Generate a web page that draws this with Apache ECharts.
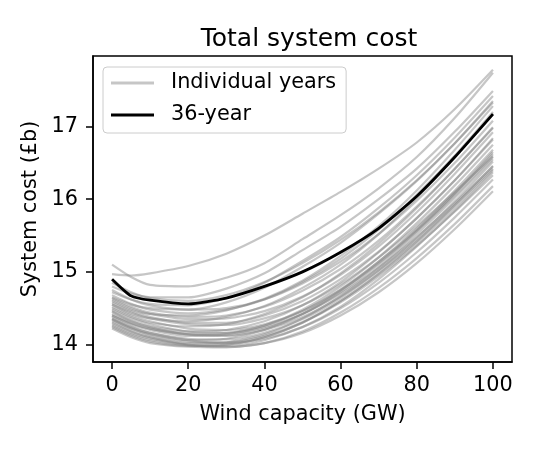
<!DOCTYPE html>
<html>
<head>
<meta charset="utf-8">
<script src="https://cdn.jsdelivr.net/npm/echarts@6/dist/echarts.min.js"></script>
<style>
  html, body { margin: 0; padding: 0; background: #fff; }
  #chart { width: 540px; height: 450px; }
</style>
</head>
<body>
<div id="chart"></div>
<script>
// wind capacity (GW) sample points
var wind = [0, 5, 10, 20, 30, 40, 50, 60, 70, 80, 90, 100];

// system cost (£b) for each individual weather year
var years = [
  [14.97, 14.95, 14.98, 15.08, 15.25, 15.50, 15.80, 16.10, 16.42, 16.78, 17.24, 17.78],
  [15.10, 14.93, 14.82, 14.80, 14.92, 15.12, 15.45, 15.78, 16.15, 16.58, 17.12, 17.74],
  [14.80, 14.70, 14.65, 14.65, 14.77, 14.98, 15.30, 15.62, 16.00, 16.42, 16.93, 17.49],
  [14.72, 14.62, 14.56, 14.54, 14.64, 14.85, 15.15, 15.48, 15.88, 16.33, 16.85, 17.42],
  [14.65, 14.55, 14.50, 14.48, 14.58, 14.78, 15.07, 15.40, 15.80, 16.25, 16.77, 17.33],
  [14.60, 14.48, 14.42, 14.40, 14.47, 14.63, 14.88, 15.22, 15.63, 16.12, 16.68, 17.28],
  [14.55, 14.42, 14.36, 14.32, 14.38, 14.53, 14.78, 15.10, 15.52, 16.02, 16.58, 17.18],
  [14.50, 14.38, 14.30, 14.25, 14.28, 14.42, 14.65, 14.98, 15.39, 15.88, 16.42, 16.99],
  [14.62, 14.50, 14.42, 14.35, 14.36, 14.46, 14.66, 14.96, 15.35, 15.82, 16.35, 16.92],
  [14.45, 14.32, 14.25, 14.18, 14.20, 14.32, 14.54, 14.86, 15.27, 15.74, 16.26, 16.82],
  [14.40, 14.28, 14.20, 14.12, 14.14, 14.26, 14.48, 14.80, 15.20, 15.67, 16.19, 16.75],
  [14.35, 14.22, 14.14, 14.06, 14.08, 14.20, 14.42, 14.74, 15.14, 15.60, 16.12, 16.68],
  [14.55, 14.44, 14.36, 14.28, 14.27, 14.36, 14.54, 14.83, 15.20, 15.63, 16.10, 16.59],
  [14.30, 14.18, 14.10, 14.02, 14.03, 14.14, 14.36, 14.67, 15.06, 15.52, 16.02, 16.55],
  [14.48, 14.36, 14.28, 14.18, 14.16, 14.24, 14.42, 14.70, 15.06, 15.48, 15.95, 16.45],
  [14.26, 14.14, 14.06, 13.99, 13.98, 14.06, 14.24, 14.52, 14.90, 15.35, 15.84, 16.37],
  [14.38, 14.25, 14.16, 14.06, 14.02, 14.08, 14.24, 14.50, 14.85, 15.27, 15.75, 16.27],
  [14.22, 14.10, 14.02, 13.97, 13.96, 14.02, 14.18, 14.44, 14.78, 15.19, 15.66, 16.18],
  [14.32, 14.19, 14.10, 14.00, 13.97, 14.02, 14.16, 14.40, 14.72, 15.12, 15.59, 16.11],
  [14.85, 14.72, 14.64, 14.60, 14.68, 14.86, 15.12, 15.44, 15.82, 16.26, 16.77, 17.35],
  [14.68, 14.56, 14.48, 14.43, 14.48, 14.62, 14.86, 15.18, 15.58, 16.06, 16.60, 17.20],
  [14.58, 14.46, 14.38, 14.30, 14.30, 14.40, 14.60, 14.90, 15.28, 15.74, 16.26, 16.84],
  [14.42, 14.30, 14.22, 14.14, 14.13, 14.22, 14.42, 14.72, 15.10, 15.56, 16.08, 16.65],
  [14.52, 14.40, 14.32, 14.22, 14.20, 14.28, 14.46, 14.75, 15.12, 15.56, 16.05, 16.58],
  [14.36, 14.24, 14.16, 14.08, 14.07, 14.16, 14.35, 14.64, 15.02, 15.47, 15.97, 16.52],
  [14.28, 14.16, 14.08, 14.00, 14.00, 14.10, 14.30, 14.60, 14.98, 15.42, 15.92, 16.46],
  [14.46, 14.33, 14.24, 14.14, 14.12, 14.20, 14.38, 14.66, 15.02, 15.44, 15.92, 16.42],
  [14.34, 14.22, 14.13, 14.04, 14.03, 14.12, 14.31, 14.60, 14.97, 15.40, 15.88, 16.40],
  [14.75, 14.62, 14.54, 14.48, 14.50, 14.62, 14.84, 15.14, 15.52, 15.98, 16.50, 17.08],
  [14.64, 14.52, 14.44, 14.38, 14.40, 14.52, 14.74, 15.04, 15.43, 15.90, 16.42, 16.98],
  [14.40, 14.29, 14.22, 14.15, 14.16, 14.26, 14.46, 14.76, 15.14, 15.58, 16.08, 16.62],
  [14.24, 14.12, 14.04, 13.98, 14.00, 14.10, 14.30, 14.58, 14.94, 15.36, 15.83, 16.33]
];

// 36-year combined
var avg36 = [14.90, 14.67, 14.61, 14.56, 14.64, 14.80, 15.00, 15.27, 15.60, 16.04, 16.58, 17.17];

var xTicks = [0, 20, 40, 60, 80, 100];
var yTicks = [14, 15, 16, 17];

var font = 'DejaVu Sans';
var grey = 'rgba(128,128,128,0.45)';

function pairs(v) {
    return wind.map(function (x, i) { return [x, v[i]]; });
}

var series = years.map(function (v) {
    return {
        name: 'Individual years',
        type: 'line',
        data: pairs(v),
        symbol: 'none',
        smooth: 0.25,
        color: grey,
        lineStyle: { color: grey, width: 2.2 },
        z: 2
    };
});
series.push({
    name: '36-year',
    type: 'line',
    data: pairs(avg36),
    symbol: 'none',
    smooth: 0.2,
    color: '#000',
    lineStyle: { color: '#000', width: 2.8 },
    z: 5
});

var myChart = echarts.init(document.getElementById('chart'));
var option = {
    backgroundColor: '#fff',
    animation: false,
    textStyle: { fontFamily: font },
    title: {
        text: 'Total system cost',
        left: 304,
        top: 22,
        textAlign: 'center',
        textStyle: { fontFamily: font, fontSize: 25, fontWeight: 'normal', color: '#000' }
    },
    legend: {
        left: 103,
        top: 67,
        orient: 'vertical',
        data: ['Individual years', '36-year'],
        icon: 'rect',
        itemWidth: 43,
        itemHeight: 3,
        itemGap: 10,
        padding: [5, 10, 7, 8],
        borderColor: '#cccccc',
        borderWidth: 1,
        borderRadius: 4,
        backgroundColor: 'rgba(255,255,255,0.8)',
        textStyle: { fontFamily: font, fontSize: 20.8, lineHeight: 22, color: '#000', padding: [0, 0, 0, 12] }
    },
    grid: {
        left: 93,
        top: 56,
        width: 419,
        height: 306,
        show: true,
        borderColor: '#000',
        borderWidth: 1.5
    },
    xAxis: {
        type: 'value',
        min: -5,
        max: 105,
        name: 'Wind capacity (GW)',
        nameLocation: 'middle',
        nameGap: 42,
        nameTextStyle: { fontFamily: font, fontSize: 20.8, color: '#000' },
        axisLine: { show: true, onZero: false, lineStyle: { color: '#000', width: 1.5 } },
        axisTick: { show: true, inside: false, length: 7, customValues: xTicks, lineStyle: { color: '#000', width: 1.5 } },
        axisLabel: { customValues: xTicks, fontFamily: font, fontSize: 20.8, color: '#000', margin: 13 },
        splitLine: { show: false }
    },
    yAxis: {
        type: 'value',
        min: 13.76,
        max: 17.97,
        name: 'System cost (£b)',
        nameLocation: 'middle',
        nameGap: 48,
        nameRotate: 90,
        nameTextStyle: { fontFamily: font, fontSize: 20.8, color: '#000' },
        axisLine: { show: true, onZero: false, lineStyle: { color: '#000', width: 1.5 } },
        axisTick: { show: true, inside: false, length: 7, customValues: yTicks, lineStyle: { color: '#000', width: 1.5 } },
        axisLabel: { customValues: yTicks, fontFamily: font, fontSize: 20.8, color: '#000', margin: 15 },
        splitLine: { show: false }
    },
    series: series
};
myChart.setOption(option);
</script>
</body>
</html>
